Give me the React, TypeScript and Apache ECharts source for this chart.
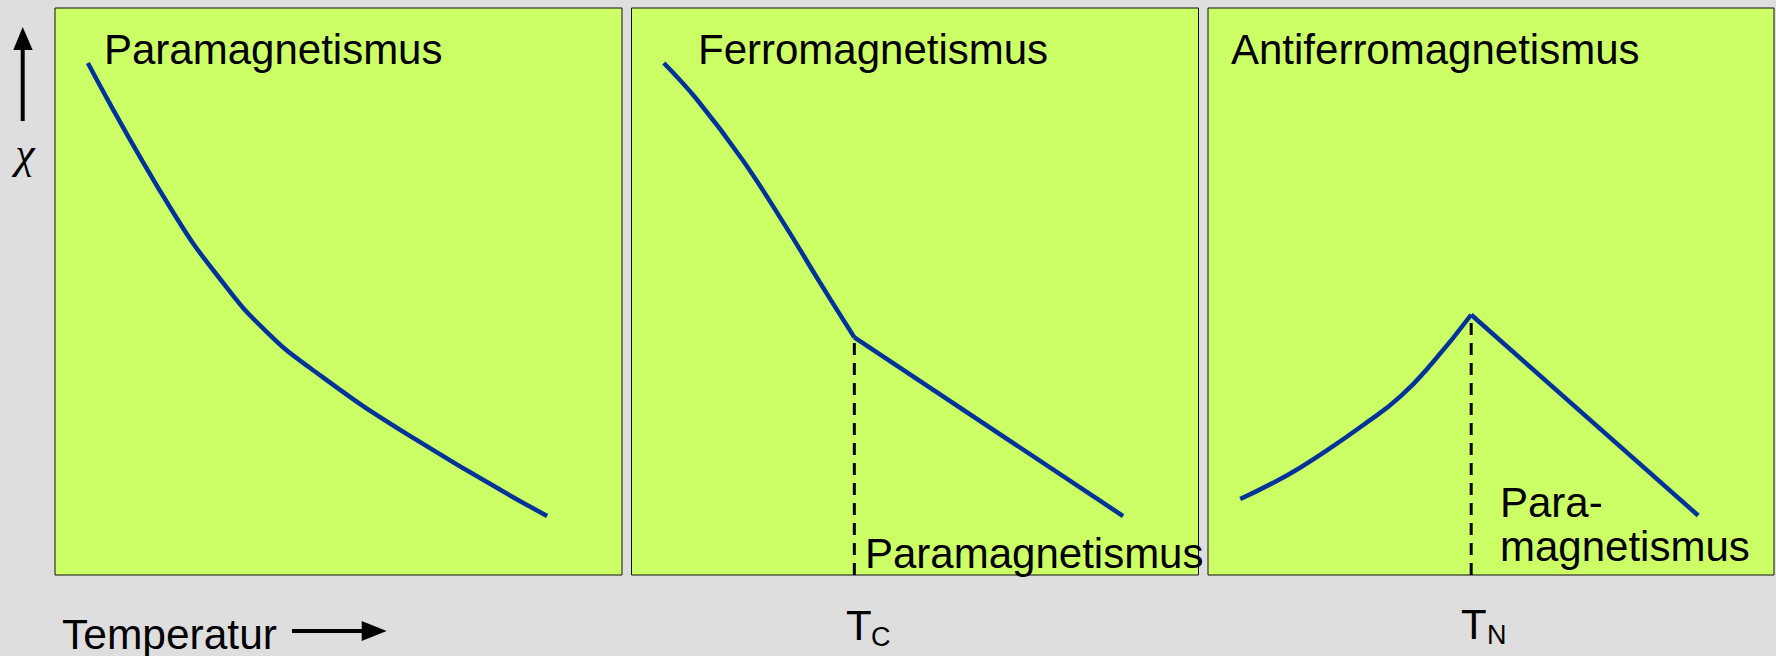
import React, { useEffect, useRef } from "react";
import * as echarts from "echarts";

// Panel 1: Paramagnetismus (relative temperature, relative susceptibility)
const paraX = [5.8, 20.5, 29.9, 37.1, 45.0, 62.3, 86.8];
const paraY = [90.3, 64.5, 51.2, 43.1, 36.5, 24.7, 10.4];

// Panel 2: Ferromagnetismus below T_C, Paramagnetismus above
const ferroX = [5.7, 11.5, 19.6, 27.0, 33.1, 39.3];
const ferroY = [90.3, 83.9, 73.2, 61.8, 51.8, 41.9];
const ferroParaX = [39.3, 86.7];
const ferroParaY = [41.9, 10.4];
const tC = 39.3;

// Panel 3: Antiferromagnetismus below T_N, Paramagnetismus above
const afmX = [5.7, 14.0, 19.8, 27.5, 34.0, 39.8, 46.5];
const afmY = [13.4, 17.6, 21.2, 26.5, 31.5, 37.6, 45.9];
const afmParaX = [46.5, 86.6];
const afmParaY = [45.9, 10.5];
const tN = 46.5;

const panelTitles = ["Paramagnetismus", "Ferromagnetismus", "Antiferromagnetismus"];

const zip = (xs: number[], ys: number[]) => xs.map((x, i) => [x, ys[i]]);

const FONT = "'Liberation Sans', Arial, sans-serif";
const BLUE = "#003399";
const GREEN = "#ccff66";

export default function App() {
  const ref = useRef<HTMLDivElement>(null);

  useEffect(() => {
    if (!ref.current) return;
    const chart = echarts.init(ref.current, undefined, { renderer: "svg" });

    const grids = [
      { left: 55, top: 8, width: 567, height: 567 },
      { left: 631.5, top: 8, width: 567, height: 567 },
      { left: 1208, top: 8, width: 566, height: 567 },
    ].map((g) => ({
      ...g,
      show: true,
      backgroundColor: GREEN,
      borderColor: "#111",
      borderWidth: 1,
    }));

    const xAxes = grids.map((_, i) => ({
      type: "value",
      gridIndex: i,
      min: 0,
      max: 100,
      show: false,
    }));
    const yAxes = grids.map((_, i) => ({
      type: "value",
      gridIndex: i,
      min: 0,
      max: 100,
      show: false,
    }));

    const blueLine = { color: BLUE, width: 4.5 };
    const dashLine = { color: "#000", width: 3, type: [12, 8] };

    const series: any[] = [
      {
        type: "line",
        xAxisIndex: 0,
        yAxisIndex: 0,
        data: zip(paraX, paraY),
        smooth: 0.5,
        showSymbol: false,
        lineStyle: blueLine,
      },
      {
        type: "line",
        xAxisIndex: 1,
        yAxisIndex: 1,
        data: [
          [tC, 0],
          [tC, ferroY[ferroY.length - 1]],
        ],
        showSymbol: false,
        lineStyle: dashLine,
        z: 1,
      },
      {
        type: "line",
        xAxisIndex: 1,
        yAxisIndex: 1,
        data: zip(ferroX, ferroY),
        smooth: 0.4,
        showSymbol: false,
        lineStyle: blueLine,
        z: 3,
      },
      {
        type: "line",
        xAxisIndex: 1,
        yAxisIndex: 1,
        data: zip(ferroParaX, ferroParaY),
        showSymbol: false,
        lineStyle: blueLine,
        z: 3,
      },
      {
        type: "line",
        xAxisIndex: 2,
        yAxisIndex: 2,
        data: [
          [tN, 0],
          [tN, afmY[afmY.length - 1]],
        ],
        showSymbol: false,
        lineStyle: dashLine,
        z: 1,
      },
      {
        type: "line",
        xAxisIndex: 2,
        yAxisIndex: 2,
        data: zip(afmX, afmY),
        smooth: 0.5,
        showSymbol: false,
        lineStyle: blueLine,
        z: 3,
      },
      {
        type: "line",
        xAxisIndex: 2,
        yAxisIndex: 2,
        data: zip(afmParaX, afmParaY),
        showSymbol: false,
        lineStyle: blueLine,
        z: 3,
      },
    ];

    const txt = (
      text: string,
      x: number,
      y: number,
      size = 42,
      align = "left",
      family = FONT,
      style = ""
    ) => ({
      type: "text",
      x,
      y,
      z: 100,
      style: {
        text,
        fill: "#000",
        font: `${style}${size}px ${family}`,
        align,
        verticalAlign: "middle",
      },
    });

    const graphic: any[] = [
      txt(panelTitles[0], 104, 49),
      txt(panelTitles[1], 698, 49),
      txt(panelTitles[2], 1231, 49),
      txt("Paramagnetismus", 865, 553),
      txt("Para-", 1500, 502),
      txt("magnetismus", 1500, 546),
      // T_C
      txt("T", 846, 625.5),
      txt("C", 871, 636.5, 27),
      // T_N
      txt("T", 1461, 624),
      txt("N", 1487, 634.5, 27),
      // axis captions
      txt("Temperatur", 62, 634.5, 42.5),
      txt("χ", 25, 153, 44, "center", "'Liberation Serif', 'Times New Roman', serif", "italic "),
      // up arrow
      {
        type: "line",
        shape: { x1: 22.7, y1: 121, x2: 22.7, y2: 48 },
        style: { stroke: "#000", lineWidth: 4 },
      },
      {
        type: "polygon",
        shape: {
          points: [
            [22.7, 27],
            [13.3, 50],
            [32.7, 50],
          ],
        },
        style: { fill: "#000" },
      },
      // right arrow
      {
        type: "line",
        shape: { x1: 292, y1: 631, x2: 364, y2: 631 },
        style: { stroke: "#000", lineWidth: 4 },
      },
      {
        type: "polygon",
        shape: {
          points: [
            [386.7, 631],
            [361.7, 621],
            [361.7, 641],
          ],
        },
        style: { fill: "#000" },
      },
    ];

    chart.setOption({
      animation: false,
      backgroundColor: "#dedede",
      grid: grids,
      xAxis: xAxes,
      yAxis: yAxes,
      series,
      graphic,
    });

    return () => chart.dispose();
  }, []);

  return (
    <div
      ref={ref}
      style={{ position: "fixed", left: 0, top: 0, width: 1776, height: 656 }}
    />
  );
}
